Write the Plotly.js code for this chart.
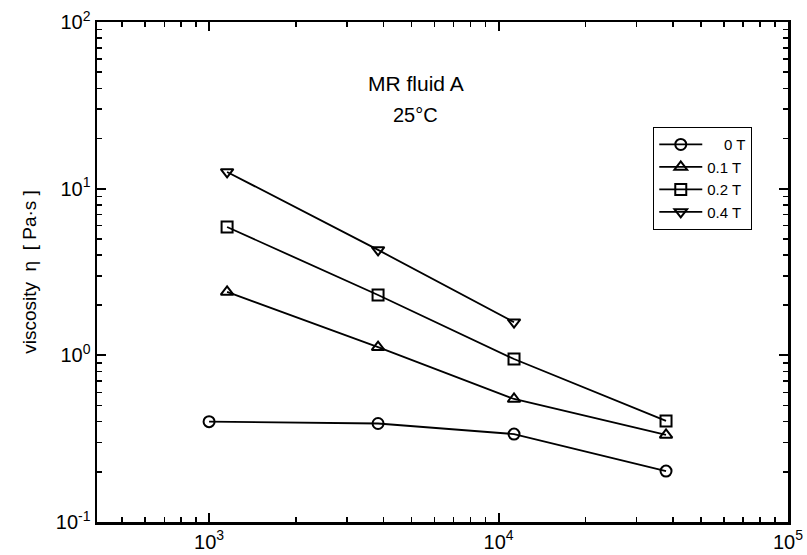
<!DOCTYPE html>
<html>
<head>
<meta charset="utf-8">
<script src="https://cdn.plot.ly/plotly-3.0.1.min.js"></script>
<style>html,body{margin:0;padding:0;background:#fff;}#chart{width:807px;height:555px;}</style>
</head>
<body>
<div id="chart"></div>
<script>
// ---- data ----
const seriesNames = ["\u00a0\u00a0\u00a0\u00a00 T", "0.1 T", "0.2 T", "0.4 T"];
const shear0T   = [1000, 3835, 11310, 37900];
const visc0T    = [0.40, 0.39, 0.337, 0.202];
const shear01T  = [1154, 3835, 11310, 37900];
const visc01T   = [2.40, 1.12, 0.547, 0.333];
const shear02T  = [1154, 3835, 11310, 37900];
const visc02T   = [5.89, 2.30, 0.95, 0.404];
const shear04T  = [1154, 3835, 11310];
const visc04T   = [12.6, 4.29, 1.58];
const markerSymbols = ["circle-open", "triangle-up-open", "square-open", "triangle-down-open"];
const xTickVals = [1e3, 1e4, 1e5];
const xTickText = ["10<sup>3</sup>", "10<sup>4</sup>", "10<sup>5</sup>"];
const yTickVals = [0.1, 1, 10, 100];
const yTickText = ["10<sup>-1</sup>", "10<sup>0</sup>", "10<sup>1</sup>", "10<sup>2</sup>"];
const titleLine1 = "MR fluid A";
const titleLine2 = "25°C";
const yTitle = "viscosity  \u03b7  [ Pa\u00b7s ]";

function minorTicks(lo, hi) {
  const out = [];
  for (let e = lo; e < hi; e++) {
    for (let m = 2; m <= 9; m++) out.push(m * Math.pow(10, e));
  }
  return out;
}

const FONT = "Liberation Sans, Arial, sans-serif";
const xs = [shear0T, shear01T, shear02T, shear04T];
const ys = [visc0T, visc01T, visc02T, visc04T];
const traces = xs.map((x, i) => ({
  x: x, y: ys[i], name: seriesNames[i], type: "scatter", mode: "lines+markers",
  line: {color: "#000", width: 1.8},
  marker: {symbol: markerSymbols[i], size: 11, color: "#000", line: {color: "#000", width: 2}}
}));

const axisCommon = {
  type: "log", showgrid: false, zeroline: false,
  showline: true, linecolor: "#000", linewidth: 2.5, mirror: "ticks",
  ticks: "inside", ticklen: 9, tickwidth: 2, tickcolor: "#000",
  tickmode: "array",
  tickfont: {family: FONT, size: 20, color: "#000"}
};

const layout = {
  width: 807, height: 555,
  margin: {l: 97, r: 19, t: 22, b: 33},
  paper_bgcolor: "#fff", plot_bgcolor: "#fff",
  showlegend: true,
  legend: {
    x: 0.948, y: 0.79, xanchor: "right", yanchor: "top",
    bordercolor: "#000", borderwidth: 1.2, bgcolor: "#fff",
    font: {family: FONT, size: 15, color: "#000"},
    tracegroupgap: 0, itemwidth: 43
  },
  xaxis: Object.assign({}, axisCommon, {
    range: [Math.log10(410), 5],
    tickvals: xTickVals, ticktext: xTickText,
    minor: {ticks: "inside", ticklen: 5, tickwidth: 1.5, tickcolor: "#000", tickvals: minorTicks(2, 5)}
  }),
  yaxis: Object.assign({}, axisCommon, {
    range: [-1, 2],
    tickvals: yTickVals, ticktext: yTickText,
    minor: {ticks: "inside", ticklen: 5, tickwidth: 1.5, tickcolor: "#000", tickvals: minorTicks(-1, 2)},
    title: {text: yTitle, standoff: 14, font: {family: FONT, size: 19, color: "#000"}}
  }),
  annotations: [
    {text: titleLine1, xref: "paper", yref: "paper", x: 0.461, y: 0.878, yanchor: "middle", xanchor: "center", showarrow: false,
     font: {family: FONT, size: 21, color: "#000"}},
    {text: titleLine2, xref: "paper", yref: "paper", x: 0.461, y: 0.815, yanchor: "middle", xanchor: "center", showarrow: false,
     font: {family: FONT, size: 20, color: "#000"}}
  ]
};

Plotly.newPlot("chart", traces, layout, {staticPlot: true, displayModeBar: false});
</script>
</body>
</html>
